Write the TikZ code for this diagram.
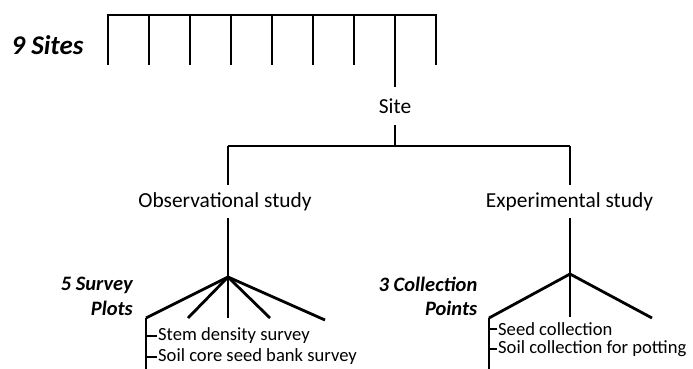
\documentclass[tikz,border=0pt]{standalone}
\usepackage{fontspec}
\setmainfont{Carlito}
\begin{document}
\begin{tikzpicture}[x=1pt,y=-1pt,
  conn/.style={line width=2.8pt,line join=miter,line cap=butt},
  tick/.style={line width=1.3pt},
  studylbl/.style={font=\fontsize{21.4}{24}\selectfont,inner sep=0pt},
  itemlbl/.style={font=\fontsize{18.6}{21}\selectfont,inner sep=0pt,anchor=west},
  grouplbl/.style={font=\fontsize{20.5}{24.5}\selectfont\bfseries\itshape,inner sep=0pt,align=right,anchor=east},
  titlelbl/.style={font=\fontsize{27}{30}\selectfont\bfseries\itshape,inner sep=0pt}]
\useasboundingbox (0,0) rectangle (693,369);
% 9 sites comb
\node[titlelbl] (sites) at (47.5,45) {9 Sites};
\coordinate (combL) at (108,15);
\coordinate (combR) at (436,15);
\draw[conn] (108,65) -- (combL) -- (combR) -- (436,65);
\foreach \i/\x in {2/149,3/190,4/231,5/272,6/313,7/354}{
  \coordinate (t\i) at (\x,15);
  \draw[conn] (t\i) -- (\x,65);
}
\coordinate (t8) at (395,15);
% site
\node[studylbl] (site) at (395,106) {Site};
\coordinate (siteA) at (395,87);
\coordinate (siteB) at (395,125);
\draw[conn] (t8) -- (siteA);
\coordinate (split) at (395,146);
\coordinate (obsTop) at (228,146);
\coordinate (expTop) at (570,146);
\draw[conn] (siteB) -- (split);
\draw[conn] (obsTop) -- (expTop);
% studies
\node[studylbl] (obs) at (225,202) {Observational study};
\node[studylbl] (exp) at (569.5,202) {Experimental study};
\coordinate (obsA) at (228,185);
\coordinate (obsB) at (228,218);
\coordinate (expA) at (570,185);
\coordinate (expB) at (570,218);
\draw[conn] (obsTop) -- (obsA);
\draw[conn] (expTop) -- (expA);
% survey plots
\coordinate (sj) at (228,277);
\draw[conn] (obsB) -- (sj);
\coordinate (s1) at (146,318);
\coordinate (s2) at (188,318);
\coordinate (s3) at (228,318);
\coordinate (s4) at (270,318);
\coordinate (s5) at (325,320);
\foreach \s in {s1,s2,s3,s4,s5}{\draw[conn] (sj) -- (\s);}
\coordinate (sbot) at (146,369);
\draw[conn] (s1) -- (sbot);
\node[grouplbl] (splots) at (133,296.5) {5 Survey\\Plots};
\node[itemlbl] (stem) at (158,336) {Stem density survey};
\node[itemlbl] (soilcore) at (158,357) {Soil core seed bank survey};
\coordinate (sk1) at (146,336);
\coordinate (sk2) at (146,357);
\draw[tick] (sk1) -- ([xshift=-1.5pt]stem.west);
\draw[tick] (sk2) -- ([xshift=-1.5pt]soilcore.west);
% collection points
\coordinate (cj) at (570,274);
\draw[conn] (expB) -- (cj);
\coordinate (c1) at (489,318);
\coordinate (c2) at (570,317);
\coordinate (c3) at (652,318);
\foreach \c in {c1,c2,c3}{\draw[conn] (cj) -- (\c);}
\coordinate (cbot) at (489,369);
\draw[conn] (c1) -- (cbot);
\node[grouplbl] (cpoints) at (477.5,296.5) {3 Collection\\Points};
\node[itemlbl] (seedc) at (498,329) {Seed collection};
\node[itemlbl] (soilc) at (498,349) {Soil collection for potting};
\coordinate (ck1) at (489,329);
\coordinate (ck2) at (489,349);
\draw[tick] (ck1) -- ([xshift=-1.5pt]seedc.west);
\draw[tick] (ck2) -- ([xshift=-1.5pt]soilc.west);
\end{tikzpicture}
\end{document}
